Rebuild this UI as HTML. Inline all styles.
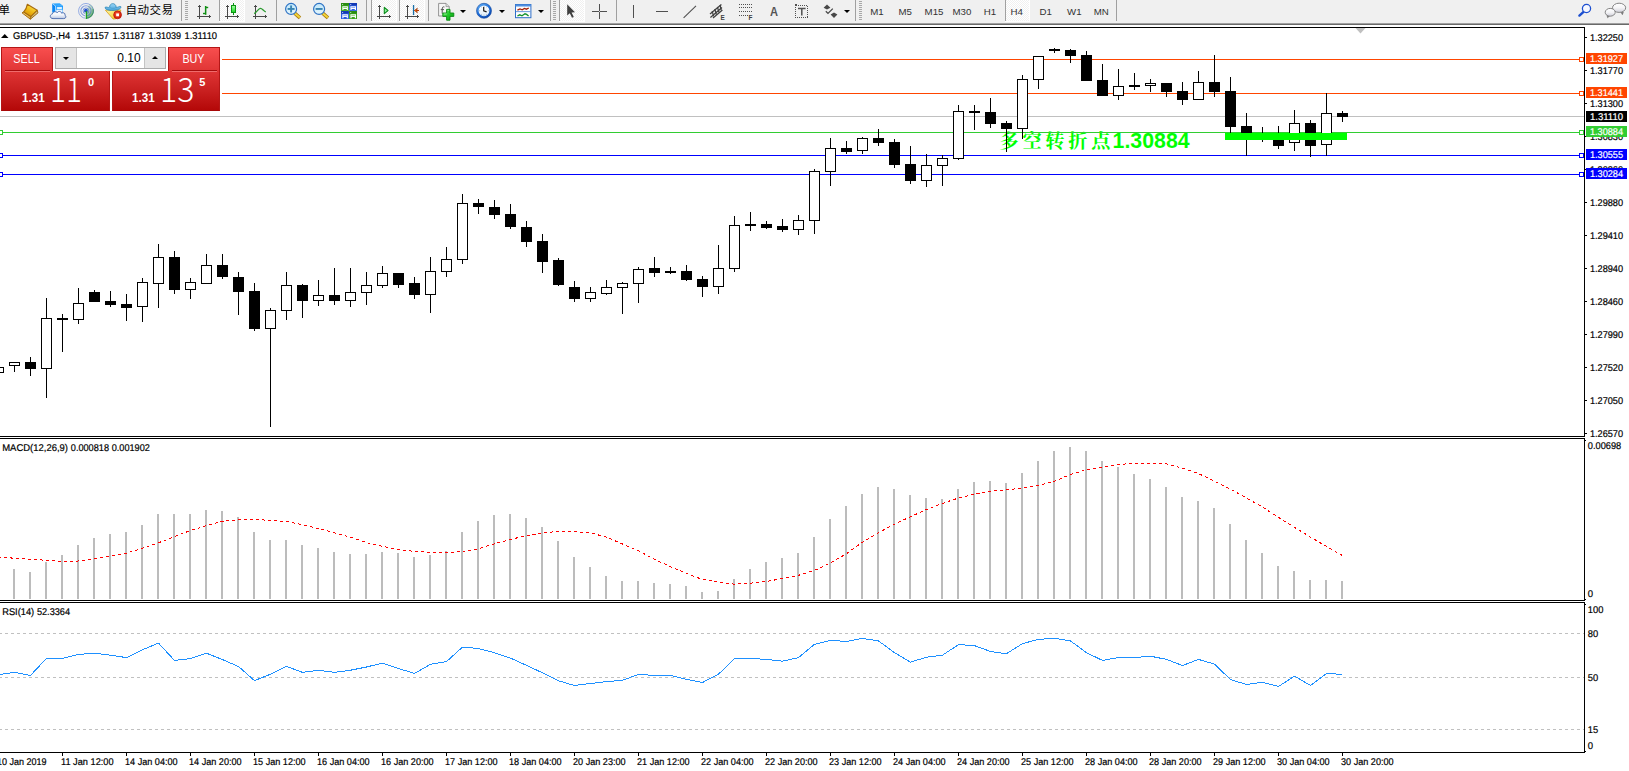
<!DOCTYPE html>
<html lang="zh"><head><meta charset="utf-8"><title>GBPUSD-,H4</title>
<style>
html,body{margin:0;padding:0;background:#fff;}
body{width:1629px;height:771px;overflow:hidden;position:relative;font-family:"Liberation Sans","Noto Sans CJK SC",sans-serif;}
#tb{position:absolute;left:0;top:0;width:1629px;height:23px;background:#f0f0f0;}
#tbl1{position:absolute;left:0;top:23px;width:1629px;height:1px;background:#a0a0a0;}
#tbl2{position:absolute;left:0;top:24px;width:1629px;height:1px;background:#696969;}
#chart{position:absolute;left:0;top:0;}
#tb .sep{position:absolute;top:0;width:1px;height:21px;background:#a0a0a0;}
#tb .grip{position:absolute;top:1px;width:3px;height:19px;background:repeating-linear-gradient(to bottom,#a8a8a8 0,#a8a8a8 1px,transparent 1px,transparent 2px);}
#tb .pressed{position:absolute;top:0;height:22px;background-color:#f0f0f0;background-image:linear-gradient(#fff,#fff),repeating-conic-gradient(#fff 0 25%,#f0f0f0 0 50%);background-size:100% 1px,2px 2px;background-position:0 21px,0 0;background-repeat:no-repeat,repeat;border-left:1px solid #a0a0a0;border-right:1px solid #fff;box-sizing:border-box;}#tb .pressed:before{content:"";position:absolute;left:-1px;top:21px;width:1px;height:1px;background:#fff;}
#tb svg{position:absolute;overflow:visible;}
#tb .tf{position:absolute;top:6.4px;font-size:9.7px;color:#333;line-height:12px;white-space:nowrap;}
#tb .auto{position:absolute;left:125.6px;top:3.1px;font-size:11.5px;letter-spacing:.5px;line-height:14px;color:#000;white-space:nowrap;font-family:"Liberation Sans","Noto Sans CJK SC",sans-serif;}
#tb .dd{position:absolute;top:10px;width:0;height:0;border-left:3px solid transparent;border-right:3px solid transparent;border-top:3px solid #000;}
#oct{position:absolute;left:0;top:47px;width:222px;height:64px;background:#fff;}
#oct .tab{position:absolute;top:0;height:24px;width:52px;box-sizing:border-box;border:1px solid #b41616;border-bottom:0;background:linear-gradient(#f84e4e,#e03535);color:#fff;font-size:12.5px;text-align:center;}
#oct .tab span{position:absolute;left:-1px;right:0;top:4px;line-height:14px;transform:scaleX(.86);}
#oct .tab i{position:absolute;left:3px;right:2px;top:22px;height:1px;background:#a60c0c;}
#oct .sell{left:1px;}
#oct .buy{left:168px;}
#oct .pr{position:absolute;top:24px;height:40px;box-sizing:border-box;border:1px solid #b41616;border-top:0;border-bottom-color:#a80808;background:linear-gradient(#df3434,#c92020 50%,#b40808);color:#fff;}
#oct .pr u{position:absolute;top:0;height:1px;width:45px;background:#ef6c6c;}
#oct .ps{left:1px;width:109px;}
#oct .ps u{left:3px;}
#oct .pb{left:112px;width:108px;}
#oct .pb u{left:59px;}
#oct .pr span{position:absolute;white-space:nowrap;}
#oct .sm{font-weight:bold;font-size:12.5px;top:20px;line-height:14px;transform:scaleX(.93);transform-origin:0 0;}
#oct .big{font-family:"Noto Sans CJK SC","Liberation Sans",sans-serif;font-weight:300;font-size:33px;top:-7px;line-height:48px;letter-spacing:0;transform-origin:0 0;}
#oct .sup{font-weight:bold;font-size:11px;top:5px;line-height:12px;}
#oct .spin{position:absolute;left:55px;top:0;width:111px;height:22px;box-sizing:border-box;border:1px solid #ababab;background:#fff;}
#oct .sb{position:absolute;top:0;width:20px;height:20px;background:#e5e5e5;}
#oct .dn{left:0;border-right:1px solid #c4c4c4;}
#oct .up{right:0;border-left:1px solid #c4c4c4;}
#oct .sb b{position:absolute;left:7px;width:0;height:0;border-left:3px solid transparent;border-right:3px solid transparent;}
#oct .dn b{top:9px;border-top:3px solid #000;}
#oct .up b{top:8px;border-bottom:3px solid #000;}
#oct .val{position:absolute;right:24.3px;top:3px;font-size:12px;line-height:14px;color:#000;}
</style></head>
<body>
<svg id="chart" width="1629" height="771" viewBox="0 0 1629 771" shape-rendering="crispEdges">
<text x="999.6" y="148" font-family="'Liberation Sans','Noto Serif CJK SC',serif" font-weight="bold" font-size="21.3" fill="#00ff00"><tspan font-family="'Noto Serif CJK SC',serif" font-weight="700" font-size="19.2" letter-spacing="3.7">多空转折点</tspan><tspan x="1112.6" font-family="'Liberation Sans',sans-serif">1.30884</tspan></text>
<rect x="0" y="116" width="1584" height="1" fill="#c0c0c0"/>
<rect x="0" y="59" width="1584" height="1" fill="#ff4500"/>
<rect x="0" y="93" width="1584" height="1" fill="#ff4500"/>
<rect x="0" y="132" width="1584" height="1" fill="#32cd32"/>
<rect x="0" y="155" width="1584" height="1" fill="#0000ff"/>
<rect x="0" y="174" width="1584" height="1" fill="#0000ff"/>
<rect x="-2" y="367" width="1" height="6" fill="#000"/>
<rect x="-7" y="367" width="11" height="6" fill="#000"/>
<rect x="-6" y="368" width="9" height="4" fill="#fff"/>
<rect x="14" y="362" width="1" height="10" fill="#000"/>
<rect x="9" y="362" width="11" height="4" fill="#000"/>
<rect x="10" y="363" width="9" height="2" fill="#fff"/>
<rect x="30" y="357" width="1" height="19" fill="#000"/>
<rect x="25" y="362" width="11" height="7" fill="#000"/>
<rect x="46" y="298" width="1" height="100" fill="#000"/>
<rect x="41" y="318" width="11" height="51" fill="#000"/>
<rect x="42" y="319" width="9" height="49" fill="#fff"/>
<rect x="62" y="314" width="1" height="38" fill="#000"/>
<rect x="57" y="318" width="11" height="2" fill="#000"/>
<rect x="78" y="288" width="1" height="36" fill="#000"/>
<rect x="73" y="303" width="11" height="17" fill="#000"/>
<rect x="74" y="304" width="9" height="15" fill="#fff"/>
<rect x="94" y="290" width="1" height="12" fill="#000"/>
<rect x="89" y="292" width="11" height="10" fill="#000"/>
<rect x="110" y="291" width="1" height="16" fill="#000"/>
<rect x="105" y="301" width="11" height="4" fill="#000"/>
<rect x="126" y="294" width="1" height="27" fill="#000"/>
<rect x="121" y="304" width="11" height="4" fill="#000"/>
<rect x="142" y="278" width="1" height="44" fill="#000"/>
<rect x="137" y="282" width="11" height="25" fill="#000"/>
<rect x="138" y="283" width="9" height="23" fill="#fff"/>
<rect x="158" y="244" width="1" height="64" fill="#000"/>
<rect x="153" y="257" width="11" height="27" fill="#000"/>
<rect x="154" y="258" width="9" height="25" fill="#fff"/>
<rect x="174" y="251" width="1" height="43" fill="#000"/>
<rect x="169" y="257" width="11" height="33" fill="#000"/>
<rect x="190" y="278" width="1" height="21" fill="#000"/>
<rect x="185" y="282" width="11" height="8" fill="#000"/>
<rect x="186" y="283" width="9" height="6" fill="#fff"/>
<rect x="206" y="254" width="1" height="30" fill="#000"/>
<rect x="201" y="265" width="11" height="19" fill="#000"/>
<rect x="202" y="266" width="9" height="17" fill="#fff"/>
<rect x="222" y="254" width="1" height="25" fill="#000"/>
<rect x="217" y="265" width="11" height="12" fill="#000"/>
<rect x="238" y="272" width="1" height="43" fill="#000"/>
<rect x="233" y="277" width="11" height="15" fill="#000"/>
<rect x="254" y="283" width="1" height="48" fill="#000"/>
<rect x="249" y="291" width="11" height="38" fill="#000"/>
<rect x="270" y="308" width="1" height="119" fill="#000"/>
<rect x="265" y="310" width="11" height="19" fill="#000"/>
<rect x="266" y="311" width="9" height="17" fill="#fff"/>
<rect x="286" y="272" width="1" height="48" fill="#000"/>
<rect x="281" y="285" width="11" height="26" fill="#000"/>
<rect x="282" y="286" width="9" height="24" fill="#fff"/>
<rect x="302" y="284" width="1" height="34" fill="#000"/>
<rect x="297" y="285" width="11" height="16" fill="#000"/>
<rect x="318" y="280" width="1" height="26" fill="#000"/>
<rect x="313" y="295" width="11" height="6" fill="#000"/>
<rect x="314" y="296" width="9" height="4" fill="#fff"/>
<rect x="334" y="268" width="1" height="37" fill="#000"/>
<rect x="329" y="295" width="11" height="6" fill="#000"/>
<rect x="350" y="268" width="1" height="39" fill="#000"/>
<rect x="345" y="292" width="11" height="9" fill="#000"/>
<rect x="346" y="293" width="9" height="7" fill="#fff"/>
<rect x="366" y="272" width="1" height="33" fill="#000"/>
<rect x="361" y="285" width="11" height="8" fill="#000"/>
<rect x="362" y="286" width="9" height="6" fill="#fff"/>
<rect x="382" y="266" width="1" height="22" fill="#000"/>
<rect x="377" y="273" width="11" height="13" fill="#000"/>
<rect x="378" y="274" width="9" height="11" fill="#fff"/>
<rect x="398" y="273" width="1" height="15" fill="#000"/>
<rect x="393" y="273" width="11" height="12" fill="#000"/>
<rect x="414" y="277" width="1" height="22" fill="#000"/>
<rect x="409" y="283" width="11" height="12" fill="#000"/>
<rect x="430" y="257" width="1" height="56" fill="#000"/>
<rect x="425" y="271" width="11" height="24" fill="#000"/>
<rect x="426" y="272" width="9" height="22" fill="#fff"/>
<rect x="446" y="247" width="1" height="30" fill="#000"/>
<rect x="441" y="259" width="11" height="13" fill="#000"/>
<rect x="442" y="260" width="9" height="11" fill="#fff"/>
<rect x="462" y="194" width="1" height="70" fill="#000"/>
<rect x="457" y="203" width="11" height="57" fill="#000"/>
<rect x="458" y="204" width="9" height="55" fill="#fff"/>
<rect x="478" y="199" width="1" height="15" fill="#000"/>
<rect x="473" y="203" width="11" height="4" fill="#000"/>
<rect x="494" y="200" width="1" height="19" fill="#000"/>
<rect x="489" y="207" width="11" height="8" fill="#000"/>
<rect x="510" y="204" width="1" height="25" fill="#000"/>
<rect x="505" y="214" width="11" height="13" fill="#000"/>
<rect x="526" y="221" width="1" height="26" fill="#000"/>
<rect x="521" y="227" width="11" height="15" fill="#000"/>
<rect x="542" y="234" width="1" height="39" fill="#000"/>
<rect x="537" y="241" width="11" height="21" fill="#000"/>
<rect x="558" y="258" width="1" height="28" fill="#000"/>
<rect x="553" y="260" width="11" height="25" fill="#000"/>
<rect x="574" y="281" width="1" height="21" fill="#000"/>
<rect x="569" y="287" width="11" height="12" fill="#000"/>
<rect x="590" y="287" width="1" height="15" fill="#000"/>
<rect x="585" y="292" width="11" height="7" fill="#000"/>
<rect x="586" y="293" width="9" height="5" fill="#fff"/>
<rect x="606" y="280" width="1" height="15" fill="#000"/>
<rect x="601" y="287" width="11" height="7" fill="#000"/>
<rect x="602" y="288" width="9" height="5" fill="#fff"/>
<rect x="622" y="282" width="1" height="32" fill="#000"/>
<rect x="617" y="283" width="11" height="5" fill="#000"/>
<rect x="618" y="284" width="9" height="3" fill="#fff"/>
<rect x="638" y="267" width="1" height="36" fill="#000"/>
<rect x="633" y="269" width="11" height="15" fill="#000"/>
<rect x="634" y="270" width="9" height="13" fill="#fff"/>
<rect x="654" y="257" width="1" height="20" fill="#000"/>
<rect x="649" y="268" width="11" height="5" fill="#000"/>
<rect x="670" y="267" width="1" height="7" fill="#000"/>
<rect x="665" y="271" width="11" height="2" fill="#000"/>
<rect x="686" y="265" width="1" height="16" fill="#000"/>
<rect x="681" y="271" width="11" height="9" fill="#000"/>
<rect x="702" y="276" width="1" height="21" fill="#000"/>
<rect x="697" y="279" width="11" height="8" fill="#000"/>
<rect x="718" y="245" width="1" height="49" fill="#000"/>
<rect x="713" y="268" width="11" height="19" fill="#000"/>
<rect x="714" y="269" width="9" height="17" fill="#fff"/>
<rect x="734" y="216" width="1" height="56" fill="#000"/>
<rect x="729" y="225" width="11" height="44" fill="#000"/>
<rect x="730" y="226" width="9" height="42" fill="#fff"/>
<rect x="750" y="212" width="1" height="19" fill="#000"/>
<rect x="745" y="224" width="11" height="2" fill="#000"/>
<rect x="766" y="221" width="1" height="8" fill="#000"/>
<rect x="761" y="224" width="11" height="4" fill="#000"/>
<rect x="782" y="219" width="1" height="13" fill="#000"/>
<rect x="777" y="226" width="11" height="4" fill="#000"/>
<rect x="798" y="215" width="1" height="20" fill="#000"/>
<rect x="793" y="220" width="11" height="10" fill="#000"/>
<rect x="794" y="221" width="9" height="8" fill="#fff"/>
<rect x="814" y="169" width="1" height="65" fill="#000"/>
<rect x="809" y="171" width="11" height="50" fill="#000"/>
<rect x="810" y="172" width="9" height="48" fill="#fff"/>
<rect x="830" y="138" width="1" height="48" fill="#000"/>
<rect x="825" y="148" width="11" height="24" fill="#000"/>
<rect x="826" y="149" width="9" height="22" fill="#fff"/>
<rect x="846" y="141" width="1" height="13" fill="#000"/>
<rect x="841" y="148" width="11" height="4" fill="#000"/>
<rect x="862" y="137" width="1" height="17" fill="#000"/>
<rect x="857" y="138" width="11" height="13" fill="#000"/>
<rect x="858" y="139" width="9" height="11" fill="#fff"/>
<rect x="878" y="129" width="1" height="17" fill="#000"/>
<rect x="873" y="138" width="11" height="5" fill="#000"/>
<rect x="894" y="139" width="1" height="29" fill="#000"/>
<rect x="889" y="142" width="11" height="23" fill="#000"/>
<rect x="910" y="146" width="1" height="38" fill="#000"/>
<rect x="905" y="164" width="11" height="17" fill="#000"/>
<rect x="926" y="154" width="1" height="33" fill="#000"/>
<rect x="921" y="165" width="11" height="16" fill="#000"/>
<rect x="922" y="166" width="9" height="14" fill="#fff"/>
<rect x="942" y="155" width="1" height="31" fill="#000"/>
<rect x="937" y="158" width="11" height="8" fill="#000"/>
<rect x="938" y="159" width="9" height="6" fill="#fff"/>
<rect x="958" y="105" width="1" height="55" fill="#000"/>
<rect x="953" y="111" width="11" height="48" fill="#000"/>
<rect x="954" y="112" width="9" height="46" fill="#fff"/>
<rect x="974" y="105" width="1" height="25" fill="#000"/>
<rect x="969" y="111" width="11" height="2" fill="#000"/>
<rect x="990" y="98" width="1" height="30" fill="#000"/>
<rect x="985" y="112" width="11" height="12" fill="#000"/>
<rect x="1006" y="121" width="1" height="31" fill="#000"/>
<rect x="1001" y="123" width="11" height="6" fill="#000"/>
<rect x="1022" y="75" width="1" height="64" fill="#000"/>
<rect x="1017" y="79" width="11" height="50" fill="#000"/>
<rect x="1018" y="80" width="9" height="48" fill="#fff"/>
<rect x="1038" y="56" width="1" height="33" fill="#000"/>
<rect x="1033" y="56" width="11" height="24" fill="#000"/>
<rect x="1034" y="57" width="9" height="22" fill="#fff"/>
<rect x="1054" y="48" width="1" height="5" fill="#000"/>
<rect x="1049" y="49" width="11" height="2" fill="#000"/>
<rect x="1070" y="49" width="1" height="14" fill="#000"/>
<rect x="1065" y="50" width="11" height="6" fill="#000"/>
<rect x="1086" y="51" width="1" height="30" fill="#000"/>
<rect x="1081" y="55" width="11" height="26" fill="#000"/>
<rect x="1102" y="64" width="1" height="32" fill="#000"/>
<rect x="1097" y="80" width="11" height="16" fill="#000"/>
<rect x="1118" y="69" width="1" height="31" fill="#000"/>
<rect x="1113" y="86" width="11" height="10" fill="#000"/>
<rect x="1114" y="87" width="9" height="8" fill="#fff"/>
<rect x="1134" y="73" width="1" height="17" fill="#000"/>
<rect x="1129" y="85" width="11" height="2" fill="#000"/>
<rect x="1150" y="79" width="1" height="13" fill="#000"/>
<rect x="1145" y="83" width="11" height="3" fill="#000"/>
<rect x="1146" y="84" width="9" height="1" fill="#fff"/>
<rect x="1166" y="83" width="1" height="14" fill="#000"/>
<rect x="1161" y="83" width="11" height="9" fill="#000"/>
<rect x="1182" y="82" width="1" height="23" fill="#000"/>
<rect x="1177" y="91" width="11" height="9" fill="#000"/>
<rect x="1198" y="71" width="1" height="29" fill="#000"/>
<rect x="1193" y="82" width="11" height="18" fill="#000"/>
<rect x="1194" y="83" width="9" height="16" fill="#fff"/>
<rect x="1214" y="55" width="1" height="42" fill="#000"/>
<rect x="1209" y="82" width="11" height="10" fill="#000"/>
<rect x="1230" y="77" width="1" height="57" fill="#000"/>
<rect x="1225" y="91" width="11" height="36" fill="#000"/>
<rect x="1246" y="113" width="1" height="43" fill="#000"/>
<rect x="1241" y="126" width="11" height="9" fill="#000"/>
<rect x="1262" y="127" width="1" height="15" fill="#000"/>
<rect x="1257" y="133" width="11" height="2" fill="#000"/>
<rect x="1278" y="126" width="1" height="23" fill="#000"/>
<rect x="1273" y="135" width="11" height="11" fill="#000"/>
<rect x="1294" y="110" width="1" height="41" fill="#000"/>
<rect x="1289" y="123" width="11" height="20" fill="#000"/>
<rect x="1290" y="124" width="9" height="18" fill="#fff"/>
<rect x="1310" y="120" width="1" height="37" fill="#000"/>
<rect x="1305" y="123" width="11" height="23" fill="#000"/>
<rect x="1326" y="93" width="1" height="63" fill="#000"/>
<rect x="1321" y="113" width="11" height="32" fill="#000"/>
<rect x="1322" y="114" width="9" height="30" fill="#fff"/>
<rect x="1342" y="111" width="1" height="11" fill="#000"/>
<rect x="1337" y="113" width="11" height="4" fill="#000"/>
<rect x="1225" y="133" width="122" height="7" fill="#00ff00"/>
<rect x="1579.5" y="57.5" width="4" height="4" fill="#fff" stroke="#ff4500" stroke-width="1"/>
<rect x="1579.5" y="91.5" width="4" height="4" fill="#fff" stroke="#ff4500" stroke-width="1"/>
<rect x="1579.5" y="130.5" width="4" height="4" fill="#fff" stroke="#32cd32" stroke-width="1"/>
<rect x="1579.5" y="153.5" width="4" height="4" fill="#fff" stroke="#0000ff" stroke-width="1"/>
<rect x="1579.5" y="172.5" width="4" height="4" fill="#fff" stroke="#0000ff" stroke-width="1"/>
<rect x="-1.5" y="130.5" width="4" height="4" fill="#fff" stroke="#32cd32" stroke-width="1"/>
<rect x="-1.5" y="153.5" width="4" height="4" fill="#fff" stroke="#0000ff" stroke-width="1"/>
<rect x="-1.5" y="172.5" width="4" height="4" fill="#fff" stroke="#0000ff" stroke-width="1"/>
<polygon points="1355.5,28 1365.5,28 1360.5,33.5" fill="#c0c0c0" shape-rendering="geometricPrecision"/>
<rect x="13" y="569" width="2" height="30" fill="#bcbcbc"/>
<rect x="29" y="572" width="2" height="27" fill="#bcbcbc"/>
<rect x="45" y="562" width="2" height="37" fill="#bcbcbc"/>
<rect x="61" y="555" width="2" height="44" fill="#bcbcbc"/>
<rect x="77" y="545" width="2" height="54" fill="#bcbcbc"/>
<rect x="93" y="538" width="2" height="61" fill="#bcbcbc"/>
<rect x="109" y="534" width="2" height="65" fill="#bcbcbc"/>
<rect x="125" y="532" width="2" height="67" fill="#bcbcbc"/>
<rect x="141" y="525" width="2" height="74" fill="#bcbcbc"/>
<rect x="157" y="514" width="2" height="85" fill="#bcbcbc"/>
<rect x="173" y="514" width="2" height="85" fill="#bcbcbc"/>
<rect x="189" y="514" width="2" height="85" fill="#bcbcbc"/>
<rect x="205" y="510" width="2" height="89" fill="#bcbcbc"/>
<rect x="221" y="511" width="2" height="88" fill="#bcbcbc"/>
<rect x="237" y="517" width="2" height="82" fill="#bcbcbc"/>
<rect x="253" y="532" width="2" height="67" fill="#bcbcbc"/>
<rect x="269" y="540" width="2" height="59" fill="#bcbcbc"/>
<rect x="285" y="540" width="2" height="59" fill="#bcbcbc"/>
<rect x="301" y="545" width="2" height="54" fill="#bcbcbc"/>
<rect x="317" y="548" width="2" height="51" fill="#bcbcbc"/>
<rect x="333" y="552" width="2" height="47" fill="#bcbcbc"/>
<rect x="349" y="554" width="2" height="45" fill="#bcbcbc"/>
<rect x="365" y="554" width="2" height="45" fill="#bcbcbc"/>
<rect x="381" y="552" width="2" height="47" fill="#bcbcbc"/>
<rect x="397" y="553" width="2" height="46" fill="#bcbcbc"/>
<rect x="413" y="557" width="2" height="42" fill="#bcbcbc"/>
<rect x="429" y="555" width="2" height="44" fill="#bcbcbc"/>
<rect x="445" y="551" width="2" height="48" fill="#bcbcbc"/>
<rect x="461" y="532" width="2" height="67" fill="#bcbcbc"/>
<rect x="477" y="521" width="2" height="78" fill="#bcbcbc"/>
<rect x="493" y="515" width="2" height="84" fill="#bcbcbc"/>
<rect x="509" y="514" width="2" height="85" fill="#bcbcbc"/>
<rect x="525" y="518" width="2" height="81" fill="#bcbcbc"/>
<rect x="541" y="527" width="2" height="72" fill="#bcbcbc"/>
<rect x="557" y="541" width="2" height="58" fill="#bcbcbc"/>
<rect x="573" y="557" width="2" height="42" fill="#bcbcbc"/>
<rect x="589" y="567" width="2" height="32" fill="#bcbcbc"/>
<rect x="605" y="576" width="2" height="23" fill="#bcbcbc"/>
<rect x="621" y="581" width="2" height="18" fill="#bcbcbc"/>
<rect x="637" y="581" width="2" height="18" fill="#bcbcbc"/>
<rect x="653" y="583" width="2" height="16" fill="#bcbcbc"/>
<rect x="669" y="584" width="2" height="15" fill="#bcbcbc"/>
<rect x="685" y="586" width="2" height="13" fill="#bcbcbc"/>
<rect x="701" y="592" width="2" height="7" fill="#bcbcbc"/>
<rect x="717" y="591" width="2" height="8" fill="#bcbcbc"/>
<rect x="733" y="579" width="2" height="20" fill="#bcbcbc"/>
<rect x="749" y="569" width="2" height="30" fill="#bcbcbc"/>
<rect x="765" y="562" width="2" height="37" fill="#bcbcbc"/>
<rect x="781" y="558" width="2" height="41" fill="#bcbcbc"/>
<rect x="797" y="553" width="2" height="46" fill="#bcbcbc"/>
<rect x="813" y="537" width="2" height="62" fill="#bcbcbc"/>
<rect x="829" y="519" width="2" height="80" fill="#bcbcbc"/>
<rect x="845" y="506" width="2" height="93" fill="#bcbcbc"/>
<rect x="861" y="494" width="2" height="105" fill="#bcbcbc"/>
<rect x="877" y="487" width="2" height="112" fill="#bcbcbc"/>
<rect x="893" y="489" width="2" height="110" fill="#bcbcbc"/>
<rect x="909" y="495" width="2" height="104" fill="#bcbcbc"/>
<rect x="925" y="498" width="2" height="101" fill="#bcbcbc"/>
<rect x="941" y="499" width="2" height="100" fill="#bcbcbc"/>
<rect x="957" y="489" width="2" height="110" fill="#bcbcbc"/>
<rect x="973" y="482" width="2" height="117" fill="#bcbcbc"/>
<rect x="989" y="481" width="2" height="118" fill="#bcbcbc"/>
<rect x="1005" y="483" width="2" height="116" fill="#bcbcbc"/>
<rect x="1021" y="473" width="2" height="126" fill="#bcbcbc"/>
<rect x="1037" y="461" width="2" height="138" fill="#bcbcbc"/>
<rect x="1053" y="451" width="2" height="148" fill="#bcbcbc"/>
<rect x="1069" y="447" width="2" height="152" fill="#bcbcbc"/>
<rect x="1085" y="451" width="2" height="148" fill="#bcbcbc"/>
<rect x="1101" y="461" width="2" height="138" fill="#bcbcbc"/>
<rect x="1117" y="467" width="2" height="132" fill="#bcbcbc"/>
<rect x="1133" y="474" width="2" height="125" fill="#bcbcbc"/>
<rect x="1149" y="479" width="2" height="120" fill="#bcbcbc"/>
<rect x="1165" y="487" width="2" height="112" fill="#bcbcbc"/>
<rect x="1181" y="497" width="2" height="102" fill="#bcbcbc"/>
<rect x="1197" y="501" width="2" height="98" fill="#bcbcbc"/>
<rect x="1213" y="508" width="2" height="91" fill="#bcbcbc"/>
<rect x="1229" y="524" width="2" height="75" fill="#bcbcbc"/>
<rect x="1245" y="540" width="2" height="59" fill="#bcbcbc"/>
<rect x="1261" y="553" width="2" height="46" fill="#bcbcbc"/>
<rect x="1277" y="566" width="2" height="33" fill="#bcbcbc"/>
<rect x="1293" y="571" width="2" height="28" fill="#bcbcbc"/>
<rect x="1309" y="580" width="2" height="19" fill="#bcbcbc"/>
<rect x="1325" y="580" width="2" height="19" fill="#bcbcbc"/>
<rect x="1341" y="581" width="2" height="18" fill="#bcbcbc"/>
<polyline points="-1.5,557.6 14.5,558.1 30.5,559.3 46.5,560.3 62.5,561.3 78.5,561.0 94.5,558.8 110.5,556.4 126.5,553.2 142.5,548.2 158.5,542.8 174.5,536.6 190.5,530.5 206.5,525.6 222.5,521.4 238.5,519.6 254.5,519.4 270.5,520.4 286.5,521.4 302.5,524.8 318.5,528.5 334.5,532.9 350.5,537.1 366.5,542.6 382.5,546.3 398.5,549.5 414.5,551.4 430.5,552.4 446.5,552.9 462.5,551.4 478.5,548.7 494.5,543.8 510.5,539.4 526.5,535.7 542.5,532.7 558.5,531.5 574.5,531.5 590.5,532.9 606.5,537.1 622.5,544.0 638.5,550.7 654.5,559.3 670.5,566.7 686.5,573.4 702.5,579.5 718.5,582.0 734.5,584.2 750.5,583.2 766.5,581.5 782.5,578.5 798.5,575.3 814.5,570.4 830.5,563.0 846.5,553.7 862.5,542.1 878.5,532.7 894.5,524.1 910.5,516.7 926.5,509.5 942.5,503.4 958.5,498.0 974.5,494.3 990.5,491.3 1006.5,489.8 1022.5,488.1 1038.5,485.4 1054.5,481.2 1070.5,474.5 1086.5,469.6 1102.5,466.9 1118.5,464.4 1134.5,463.4 1150.5,463.4 1166.5,463.9 1182.5,468.1 1198.5,473.6 1214.5,481.2 1230.5,489.1 1246.5,498.0 1262.5,507.1 1278.5,517.4 1294.5,527.3 1310.5,537.1 1326.5,546.5 1342.5,555.5" fill="none" stroke="#ff0000" stroke-width="1" stroke-dasharray="3,3" shape-rendering="crispEdges"/>
<line x1="-1" y1="633.5" x2="1584" y2="633.5" stroke="#c0c0c0" stroke-width="1" stroke-dasharray="3,3"/>
<line x1="-1" y1="677.5" x2="1584" y2="677.5" stroke="#c0c0c0" stroke-width="1" stroke-dasharray="3,3"/>
<line x1="-1" y1="729.5" x2="1584" y2="729.5" stroke="#c0c0c0" stroke-width="1" stroke-dasharray="3,3"/>
<polyline points="-1.5,674.7 14.5,672.4 30.5,675.4 46.5,658.4 62.5,658.4 78.5,654.4 94.5,653.2 110.5,655.2 126.5,657.6 142.5,649.8 158.5,643.1 174.5,660.4 190.5,658.6 206.5,653.2 222.5,659.6 238.5,666.5 254.5,680.6 270.5,674.2 286.5,666.3 302.5,672.4 318.5,670.2 334.5,672.4 350.5,670.2 366.5,667.0 382.5,663.1 398.5,668.5 414.5,673.4 430.5,664.3 446.5,661.6 462.5,647.1 478.5,648.5 494.5,652.7 510.5,658.1 526.5,665.3 542.5,672.9 558.5,680.8 574.5,685.5 590.5,683.5 606.5,681.6 622.5,680.3 638.5,674.4 654.5,675.4 670.5,675.4 686.5,679.3 702.5,682.5 718.5,674.2 734.5,658.4 750.5,658.4 766.5,659.4 782.5,661.2 798.5,657.6 814.5,644.3 830.5,640.4 846.5,641.4 862.5,638.4 878.5,640.9 894.5,652.7 910.5,662.1 926.5,657.2 942.5,655.2 958.5,644.6 974.5,645.6 990.5,651.5 1006.5,653.7 1022.5,643.6 1038.5,639.4 1054.5,638.2 1070.5,640.9 1086.5,652.7 1102.5,660.4 1118.5,657.6 1134.5,657.6 1150.5,656.2 1166.5,659.4 1182.5,665.5 1198.5,659.4 1214.5,664.1 1230.5,679.6 1246.5,684.5 1262.5,682.3 1278.5,686.5 1294.5,676.1 1310.5,685.5 1326.5,673.4 1342.5,674.4" fill="none" stroke="#1e90ff" stroke-width="1" shape-rendering="crispEdges"/>
<rect x="0" y="27" width="1585" height="1" fill="#000"/>
<rect x="1584" y="27" width="1" height="726" fill="#000"/>
<rect x="0" y="436" width="1585" height="1" fill="#000"/>
<rect x="0" y="438" width="1585" height="1" fill="#000"/>
<rect x="1584" y="437" width="1" height="1" fill="#fff"/>
<rect x="0" y="600" width="1585" height="1" fill="#000"/>
<rect x="0" y="602" width="1585" height="1" fill="#000"/>
<rect x="1584" y="601" width="1" height="1" fill="#fff"/>
<rect x="0" y="752" width="1585" height="1" fill="#000"/>
<rect x="1585" y="37" width="2" height="1" fill="#000"/>
<text x="1589.9" y="41" font-family="'Liberation Sans',sans-serif" font-size="9.8" fill="#000" stroke="#000" stroke-width=".2" text-rendering="geometricPrecision" textLength="33.2" lengthAdjust="spacingAndGlyphs">1.32250</text>
<rect x="1585" y="70" width="2" height="1" fill="#000"/>
<text x="1589.9" y="74" font-family="'Liberation Sans',sans-serif" font-size="9.8" fill="#000" stroke="#000" stroke-width=".2" text-rendering="geometricPrecision" textLength="33.2" lengthAdjust="spacingAndGlyphs">1.31770</text>
<rect x="1585" y="103" width="2" height="1" fill="#000"/>
<text x="1589.9" y="107" font-family="'Liberation Sans',sans-serif" font-size="9.8" fill="#000" stroke="#000" stroke-width=".2" text-rendering="geometricPrecision" textLength="33.2" lengthAdjust="spacingAndGlyphs">1.31300</text>
<rect x="1585" y="136" width="2" height="1" fill="#000"/>
<text x="1589.9" y="140" font-family="'Liberation Sans',sans-serif" font-size="9.8" fill="#000" stroke="#000" stroke-width=".2" text-rendering="geometricPrecision" textLength="33.2" lengthAdjust="spacingAndGlyphs">1.30830</text>
<rect x="1585" y="169" width="2" height="1" fill="#000"/>
<text x="1589.9" y="173" font-family="'Liberation Sans',sans-serif" font-size="9.8" fill="#000" stroke="#000" stroke-width=".2" text-rendering="geometricPrecision" textLength="33.2" lengthAdjust="spacingAndGlyphs">1.30360</text>
<rect x="1585" y="202" width="2" height="1" fill="#000"/>
<text x="1589.9" y="206" font-family="'Liberation Sans',sans-serif" font-size="9.8" fill="#000" stroke="#000" stroke-width=".2" text-rendering="geometricPrecision" textLength="33.2" lengthAdjust="spacingAndGlyphs">1.29880</text>
<rect x="1585" y="235" width="2" height="1" fill="#000"/>
<text x="1589.9" y="239" font-family="'Liberation Sans',sans-serif" font-size="9.8" fill="#000" stroke="#000" stroke-width=".2" text-rendering="geometricPrecision" textLength="33.2" lengthAdjust="spacingAndGlyphs">1.29410</text>
<rect x="1585" y="268" width="2" height="1" fill="#000"/>
<text x="1589.9" y="272" font-family="'Liberation Sans',sans-serif" font-size="9.8" fill="#000" stroke="#000" stroke-width=".2" text-rendering="geometricPrecision" textLength="33.2" lengthAdjust="spacingAndGlyphs">1.28940</text>
<rect x="1585" y="301" width="2" height="1" fill="#000"/>
<text x="1589.9" y="305" font-family="'Liberation Sans',sans-serif" font-size="9.8" fill="#000" stroke="#000" stroke-width=".2" text-rendering="geometricPrecision" textLength="33.2" lengthAdjust="spacingAndGlyphs">1.28460</text>
<rect x="1585" y="334" width="2" height="1" fill="#000"/>
<text x="1589.9" y="338" font-family="'Liberation Sans',sans-serif" font-size="9.8" fill="#000" stroke="#000" stroke-width=".2" text-rendering="geometricPrecision" textLength="33.2" lengthAdjust="spacingAndGlyphs">1.27990</text>
<rect x="1585" y="367" width="2" height="1" fill="#000"/>
<text x="1589.9" y="371" font-family="'Liberation Sans',sans-serif" font-size="9.8" fill="#000" stroke="#000" stroke-width=".2" text-rendering="geometricPrecision" textLength="33.2" lengthAdjust="spacingAndGlyphs">1.27520</text>
<rect x="1585" y="400" width="2" height="1" fill="#000"/>
<text x="1589.9" y="404" font-family="'Liberation Sans',sans-serif" font-size="9.8" fill="#000" stroke="#000" stroke-width=".2" text-rendering="geometricPrecision" textLength="33.2" lengthAdjust="spacingAndGlyphs">1.27050</text>
<rect x="1585" y="433" width="2" height="1" fill="#000"/>
<text x="1589.9" y="437" font-family="'Liberation Sans',sans-serif" font-size="9.8" fill="#000" stroke="#000" stroke-width=".2" text-rendering="geometricPrecision" textLength="33.2" lengthAdjust="spacingAndGlyphs">1.26570</text>
<rect x="1585" y="440" width="1" height="1" fill="#000"/>
<text x="1587.8" y="449" font-family="'Liberation Sans',sans-serif" font-size="9.8" fill="#000" stroke="#000" stroke-width=".2" text-rendering="geometricPrecision" textLength="33.4" lengthAdjust="spacingAndGlyphs">0.00698</text>
<rect x="1585" y="599" width="1" height="1" fill="#000"/>
<text x="1587.8" y="597" font-family="'Liberation Sans',sans-serif" font-size="9.8" fill="#000" stroke="#000" stroke-width=".2" text-rendering="geometricPrecision" textLength="5.3" lengthAdjust="spacingAndGlyphs">0</text>
<rect x="1585" y="604" width="1" height="1" fill="#000"/>
<text x="1587.8" y="613" font-family="'Liberation Sans',sans-serif" font-size="9.8" fill="#000" stroke="#000" stroke-width=".2" text-rendering="geometricPrecision" textLength="15.6" lengthAdjust="spacingAndGlyphs">100</text>
<text x="1587.8" y="637" font-family="'Liberation Sans',sans-serif" font-size="9.8" fill="#000" stroke="#000" stroke-width=".2" text-rendering="geometricPrecision" textLength="10.4" lengthAdjust="spacingAndGlyphs">80</text>
<text x="1587.8" y="681" font-family="'Liberation Sans',sans-serif" font-size="9.8" fill="#000" stroke="#000" stroke-width=".2" text-rendering="geometricPrecision" textLength="10.4" lengthAdjust="spacingAndGlyphs">50</text>
<text x="1587.8" y="733" font-family="'Liberation Sans',sans-serif" font-size="9.8" fill="#000" stroke="#000" stroke-width=".2" text-rendering="geometricPrecision" textLength="10.4" lengthAdjust="spacingAndGlyphs">15</text>
<rect x="1585" y="751" width="1" height="1" fill="#000"/>
<text x="1587.8" y="749" font-family="'Liberation Sans',sans-serif" font-size="9.8" fill="#000" stroke="#000" stroke-width=".2" text-rendering="geometricPrecision" textLength="5.3" lengthAdjust="spacingAndGlyphs">0</text>
<rect x="1586" y="53" width="41" height="11" fill="#ff4500"/>
<text x="1589.9" y="62" font-family="'Liberation Sans',sans-serif" font-size="9.8" fill="#fff" stroke="#fff" stroke-width=".2" text-rendering="geometricPrecision" textLength="33.2" lengthAdjust="spacingAndGlyphs">1.31927</text>
<rect x="1586" y="87" width="41" height="11" fill="#ff4500"/>
<text x="1589.9" y="96" font-family="'Liberation Sans',sans-serif" font-size="9.8" fill="#fff" stroke="#fff" stroke-width=".2" text-rendering="geometricPrecision" textLength="33.2" lengthAdjust="spacingAndGlyphs">1.31441</text>
<rect x="1586" y="111" width="41" height="11" fill="#000"/>
<text x="1589.9" y="120" font-family="'Liberation Sans',sans-serif" font-size="9.8" fill="#fff" stroke="#fff" stroke-width=".2" text-rendering="geometricPrecision" textLength="33.2" lengthAdjust="spacingAndGlyphs">1.31110</text>
<rect x="1586" y="126" width="41" height="11" fill="#32cd32"/>
<text x="1589.9" y="135" font-family="'Liberation Sans',sans-serif" font-size="9.8" fill="#fff" stroke="#fff" stroke-width=".2" text-rendering="geometricPrecision" textLength="33.2" lengthAdjust="spacingAndGlyphs">1.30884</text>
<rect x="1586" y="149" width="41" height="11" fill="#0000ff"/>
<text x="1589.9" y="158" font-family="'Liberation Sans',sans-serif" font-size="9.8" fill="#fff" stroke="#fff" stroke-width=".2" text-rendering="geometricPrecision" textLength="33.2" lengthAdjust="spacingAndGlyphs">1.30555</text>
<rect x="1586" y="168" width="41" height="11" fill="#0000ff"/>
<text x="1589.9" y="177" font-family="'Liberation Sans',sans-serif" font-size="9.8" fill="#fff" stroke="#fff" stroke-width=".2" text-rendering="geometricPrecision" textLength="33.2" lengthAdjust="spacingAndGlyphs">1.30284</text>
<rect x="-2" y="753" width="1" height="3" fill="#000"/>
<text x="-3.0" y="765" font-family="'Liberation Sans',sans-serif" font-size="9.8" fill="#000" stroke="#000" stroke-width=".2" text-rendering="geometricPrecision" textLength="49.6" lengthAdjust="spacingAndGlyphs">10 Jan 2019</text>
<rect x="62" y="753" width="1" height="3" fill="#000"/>
<text x="61.0" y="765" font-family="'Liberation Sans',sans-serif" font-size="9.8" fill="#000" stroke="#000" stroke-width=".2" text-rendering="geometricPrecision" textLength="52.6" lengthAdjust="spacingAndGlyphs">11 Jan 12:00</text>
<rect x="126" y="753" width="1" height="3" fill="#000"/>
<text x="125.0" y="765" font-family="'Liberation Sans',sans-serif" font-size="9.8" fill="#000" stroke="#000" stroke-width=".2" text-rendering="geometricPrecision" textLength="52.6" lengthAdjust="spacingAndGlyphs">14 Jan 04:00</text>
<rect x="190" y="753" width="1" height="3" fill="#000"/>
<text x="189.0" y="765" font-family="'Liberation Sans',sans-serif" font-size="9.8" fill="#000" stroke="#000" stroke-width=".2" text-rendering="geometricPrecision" textLength="52.6" lengthAdjust="spacingAndGlyphs">14 Jan 20:00</text>
<rect x="254" y="753" width="1" height="3" fill="#000"/>
<text x="253.0" y="765" font-family="'Liberation Sans',sans-serif" font-size="9.8" fill="#000" stroke="#000" stroke-width=".2" text-rendering="geometricPrecision" textLength="52.6" lengthAdjust="spacingAndGlyphs">15 Jan 12:00</text>
<rect x="318" y="753" width="1" height="3" fill="#000"/>
<text x="317.0" y="765" font-family="'Liberation Sans',sans-serif" font-size="9.8" fill="#000" stroke="#000" stroke-width=".2" text-rendering="geometricPrecision" textLength="52.6" lengthAdjust="spacingAndGlyphs">16 Jan 04:00</text>
<rect x="382" y="753" width="1" height="3" fill="#000"/>
<text x="381.0" y="765" font-family="'Liberation Sans',sans-serif" font-size="9.8" fill="#000" stroke="#000" stroke-width=".2" text-rendering="geometricPrecision" textLength="52.6" lengthAdjust="spacingAndGlyphs">16 Jan 20:00</text>
<rect x="446" y="753" width="1" height="3" fill="#000"/>
<text x="445.0" y="765" font-family="'Liberation Sans',sans-serif" font-size="9.8" fill="#000" stroke="#000" stroke-width=".2" text-rendering="geometricPrecision" textLength="52.6" lengthAdjust="spacingAndGlyphs">17 Jan 12:00</text>
<rect x="510" y="753" width="1" height="3" fill="#000"/>
<text x="509.0" y="765" font-family="'Liberation Sans',sans-serif" font-size="9.8" fill="#000" stroke="#000" stroke-width=".2" text-rendering="geometricPrecision" textLength="52.6" lengthAdjust="spacingAndGlyphs">18 Jan 04:00</text>
<rect x="574" y="753" width="1" height="3" fill="#000"/>
<text x="573.0" y="765" font-family="'Liberation Sans',sans-serif" font-size="9.8" fill="#000" stroke="#000" stroke-width=".2" text-rendering="geometricPrecision" textLength="52.6" lengthAdjust="spacingAndGlyphs">20 Jan 23:00</text>
<rect x="638" y="753" width="1" height="3" fill="#000"/>
<text x="637.0" y="765" font-family="'Liberation Sans',sans-serif" font-size="9.8" fill="#000" stroke="#000" stroke-width=".2" text-rendering="geometricPrecision" textLength="52.6" lengthAdjust="spacingAndGlyphs">21 Jan 12:00</text>
<rect x="702" y="753" width="1" height="3" fill="#000"/>
<text x="701.0" y="765" font-family="'Liberation Sans',sans-serif" font-size="9.8" fill="#000" stroke="#000" stroke-width=".2" text-rendering="geometricPrecision" textLength="52.6" lengthAdjust="spacingAndGlyphs">22 Jan 04:00</text>
<rect x="766" y="753" width="1" height="3" fill="#000"/>
<text x="765.0" y="765" font-family="'Liberation Sans',sans-serif" font-size="9.8" fill="#000" stroke="#000" stroke-width=".2" text-rendering="geometricPrecision" textLength="52.6" lengthAdjust="spacingAndGlyphs">22 Jan 20:00</text>
<rect x="830" y="753" width="1" height="3" fill="#000"/>
<text x="829.0" y="765" font-family="'Liberation Sans',sans-serif" font-size="9.8" fill="#000" stroke="#000" stroke-width=".2" text-rendering="geometricPrecision" textLength="52.6" lengthAdjust="spacingAndGlyphs">23 Jan 12:00</text>
<rect x="894" y="753" width="1" height="3" fill="#000"/>
<text x="893.0" y="765" font-family="'Liberation Sans',sans-serif" font-size="9.8" fill="#000" stroke="#000" stroke-width=".2" text-rendering="geometricPrecision" textLength="52.6" lengthAdjust="spacingAndGlyphs">24 Jan 04:00</text>
<rect x="958" y="753" width="1" height="3" fill="#000"/>
<text x="957.0" y="765" font-family="'Liberation Sans',sans-serif" font-size="9.8" fill="#000" stroke="#000" stroke-width=".2" text-rendering="geometricPrecision" textLength="52.6" lengthAdjust="spacingAndGlyphs">24 Jan 20:00</text>
<rect x="1022" y="753" width="1" height="3" fill="#000"/>
<text x="1021.0" y="765" font-family="'Liberation Sans',sans-serif" font-size="9.8" fill="#000" stroke="#000" stroke-width=".2" text-rendering="geometricPrecision" textLength="52.6" lengthAdjust="spacingAndGlyphs">25 Jan 12:00</text>
<rect x="1086" y="753" width="1" height="3" fill="#000"/>
<text x="1085.0" y="765" font-family="'Liberation Sans',sans-serif" font-size="9.8" fill="#000" stroke="#000" stroke-width=".2" text-rendering="geometricPrecision" textLength="52.6" lengthAdjust="spacingAndGlyphs">28 Jan 04:00</text>
<rect x="1150" y="753" width="1" height="3" fill="#000"/>
<text x="1149.0" y="765" font-family="'Liberation Sans',sans-serif" font-size="9.8" fill="#000" stroke="#000" stroke-width=".2" text-rendering="geometricPrecision" textLength="52.6" lengthAdjust="spacingAndGlyphs">28 Jan 20:00</text>
<rect x="1214" y="753" width="1" height="3" fill="#000"/>
<text x="1213.0" y="765" font-family="'Liberation Sans',sans-serif" font-size="9.8" fill="#000" stroke="#000" stroke-width=".2" text-rendering="geometricPrecision" textLength="52.6" lengthAdjust="spacingAndGlyphs">29 Jan 12:00</text>
<rect x="1278" y="753" width="1" height="3" fill="#000"/>
<text x="1277.0" y="765" font-family="'Liberation Sans',sans-serif" font-size="9.8" fill="#000" stroke="#000" stroke-width=".2" text-rendering="geometricPrecision" textLength="52.6" lengthAdjust="spacingAndGlyphs">30 Jan 04:00</text>
<rect x="1342" y="753" width="1" height="3" fill="#000"/>
<text x="1341.0" y="765" font-family="'Liberation Sans',sans-serif" font-size="9.8" fill="#000" stroke="#000" stroke-width=".2" text-rendering="geometricPrecision" textLength="52.6" lengthAdjust="spacingAndGlyphs">30 Jan 20:00</text>
<polygon points="1,38 8.5,38 4.75,34" fill="#000" shape-rendering="geometricPrecision"/>
<text x="13.0" y="39" font-family="'Liberation Sans',sans-serif" font-size="9.8" fill="#000" stroke="#000" stroke-width=".2" text-rendering="geometricPrecision" textLength="57.2" lengthAdjust="spacingAndGlyphs">GBPUSD-,H4</text>
<text x="76.4" y="39" font-family="'Liberation Sans',sans-serif" font-size="9.8" fill="#000" stroke="#000" stroke-width=".2" text-rendering="geometricPrecision" textLength="32.6" lengthAdjust="spacingAndGlyphs">1.31157</text>
<text x="112.4" y="39" font-family="'Liberation Sans',sans-serif" font-size="9.8" fill="#000" stroke="#000" stroke-width=".2" text-rendering="geometricPrecision" textLength="32.6" lengthAdjust="spacingAndGlyphs">1.31187</text>
<text x="148.4" y="39" font-family="'Liberation Sans',sans-serif" font-size="9.8" fill="#000" stroke="#000" stroke-width=".2" text-rendering="geometricPrecision" textLength="32.6" lengthAdjust="spacingAndGlyphs">1.31039</text>
<text x="184.5" y="39" font-family="'Liberation Sans',sans-serif" font-size="9.8" fill="#000" stroke="#000" stroke-width=".2" text-rendering="geometricPrecision" textLength="32.6" lengthAdjust="spacingAndGlyphs">1.31110</text>
<text x="2.2" y="451" font-family="'Liberation Sans',sans-serif" font-size="9.8" fill="#000" stroke="#000" stroke-width=".2" text-rendering="geometricPrecision" textLength="65.8" lengthAdjust="spacingAndGlyphs">MACD(12,26,9)</text>
<text x="70.8" y="451" font-family="'Liberation Sans',sans-serif" font-size="9.8" fill="#000" stroke="#000" stroke-width=".2" text-rendering="geometricPrecision" textLength="38.2" lengthAdjust="spacingAndGlyphs">0.000818</text>
<text x="111.7" y="451" font-family="'Liberation Sans',sans-serif" font-size="9.8" fill="#000" stroke="#000" stroke-width=".2" text-rendering="geometricPrecision" textLength="38.2" lengthAdjust="spacingAndGlyphs">0.001902</text>
<text x="2.2" y="615" font-family="'Liberation Sans',sans-serif" font-size="9.8" fill="#000" stroke="#000" stroke-width=".2" text-rendering="geometricPrecision" textLength="32.0" lengthAdjust="spacingAndGlyphs">RSI(14)</text>
<text x="36.9" y="615" font-family="'Liberation Sans',sans-serif" font-size="9.8" fill="#000" stroke="#000" stroke-width=".2" text-rendering="geometricPrecision" textLength="33.2" lengthAdjust="spacingAndGlyphs">52.3364</text>
</svg>

<div id="oct">
  <div class="tab sell"><span>SELL</span><i></i></div>
  <div class="tab buy"><span>BUY</span><i></i></div>
  <div class="spin"><div class="sb dn"><b></b></div><div class="val">0.10</div><div class="sb up"><b></b></div></div>
  <div class="pr ps"><u></u><span class="sm" style="left:20px">1.31</span><span class="big" style="left:47.5px;transform:scaleX(.9)">11</span><span class="sup" style="left:86px">0</span></div>
  <div class="pr pb"><u></u><span class="sm" style="left:19px">1.31</span><span class="big" style="left:47px;transform:scaleX(.97)">13</span><span class="sup" style="left:86.2px">5</span></div>
</div>

<div id="tb">
<div class="auto" style="left:-1.4px">单</div>
<svg style="left:21px;top:3px" width="19" height="18" viewBox="0 0 19 18" ><defs><linearGradient id="gd" x1=".75" y1=".1" x2=".25" y2=".9"><stop offset="0" stop-color="#fff2a8"/><stop offset=".3" stop-color="#f5cc28"/><stop offset=".7" stop-color="#e8ac0e"/><stop offset="1" stop-color="#d4920a"/></linearGradient><linearGradient id="gs" x1=".6" y1=".2" x2=".3" y2=".8"><stop offset="0" stop-color="#fbe08a"/><stop offset="1" stop-color="#c98a10"/></linearGradient></defs><path d="M16.2,7.2 L17,9.8 L9.4,16.2 L9.2,13.4 Z" fill="#d2c07c" stroke="#9a660c" stroke-width=".95"/><path d="M1,9.8 L2.7,8.9 L9.9,13.5 L9.3,16.2 Z" fill="url(#gs)" stroke="#a86c0c" stroke-width=".95"/><path d="M6.3,1.3 L16.2,7.2 L9.8,13.6 L2.6,9.1 C4.6,7 5.8,4.6 6.3,1.3 Z" fill="url(#gd)" stroke="#a86c0c" stroke-width="1.15" stroke-linejoin="round"/></svg>
<svg style="left:49px;top:2px" width="19" height="18" viewBox="0 0 19 18" ><defs><linearGradient id="cl" x1="0" y1="0" x2="0" y2="1"><stop offset="0" stop-color="#ffffff"/><stop offset=".5" stop-color="#f2f5fb"/><stop offset="1" stop-color="#b9c6e2"/></linearGradient></defs><path d="M3.2,1.5 L6.4,3.9 L6.4,11.6 L3.2,10.6 Z" fill="#0b86f4"/><path d="M3.2,1.5 L10.6,1.2 L14,3.7 L6.4,3.9 Z" fill="#2ea6ff"/><path d="M6.4,3.9 L14,3.7 L14,11.6 L6.4,11.6 Z" fill="#1b9bff"/><path d="M3.4,1.7 L6.5,4 L6.5,11" fill="none" stroke="#d4ecff" stroke-width=".6"/><rect x="7.8" y="4.9" width="5.3" height="2.3" fill="#c4e6ff"/><rect x="8.6" y="5.7" width="3.6" height=".8" fill="#ffffff"/><rect x="7.2" y="7.7" width="6.4" height="3" fill="#e4f2ff"/><path d="M4,16.6 C.6,16.6 .4,12.4 3.4,12 C3.6,9.6 7,9 8.2,10.8 C9.4,8.6 12.2,9.2 12.6,11.2 C14.2,10 16.6,11.2 16,13.2 C17.6,14 17,16.6 14.8,16.6 Z" fill="url(#cl)" stroke="#4f6eae" stroke-width=".95"/></svg>
<svg style="left:77px;top:2px" width="19" height="19" viewBox="0 0 19 19" ><defs><linearGradient id="sg" x1=".2" y1="0" x2=".7" y2="1"><stop offset="0" stop-color="#b4d8b4" stop-opacity=".25"/><stop offset=".5" stop-color="#7cbc7c" stop-opacity=".6"/><stop offset="1" stop-color="#2f9a36" stop-opacity=".95"/></linearGradient></defs><path d="M8.97,8.85 L8.97,16.85 A8,8 0 0 0 12.4,1.7 Z" fill="url(#sg)"/><circle cx="8.97" cy="8.85" r="7.4" fill="none" stroke="#4a74d8" stroke-width="1" opacity=".55"/><circle cx="8.97" cy="8.85" r="5.1" fill="none" stroke="#3f6ad4" stroke-width="1.1" opacity=".6"/><circle cx="8.97" cy="8.85" r="2.9" fill="none" stroke="#3560d0" stroke-width="1" opacity=".6"/><path d="M8.97,16.25 A7.4,7.4 0 0 0 16.2,7.2" fill="none" stroke="#2d8a4a" stroke-width="1" opacity=".7"/><circle cx="8.9" cy="8.7" r="1.9" fill="#2050cc"/><rect x="8.1" y="10.6" width=".8" height="6" fill="#fff" opacity=".9"/><rect x="8.75" y="9.2" width="1.35" height="7.7" fill="#1ea01e"/></svg>
<svg style="left:104px;top:2px" width="20" height="19" viewBox="0 0 20 19" ><defs><linearGradient id="yl" x1="0" y1="0" x2="1" y2="1"><stop offset="0" stop-color="#fff6a8"/><stop offset=".6" stop-color="#f8d84a"/><stop offset="1" stop-color="#e8a80c"/></linearGradient><radialGradient id="rd" cx=".45" cy=".4" r=".6"><stop offset="0" stop-color="#ff5a30"/><stop offset="1" stop-color="#d01a08"/></radialGradient><linearGradient id="ht" x1="0" y1="0" x2="0" y2="1"><stop offset="0" stop-color="#9ad6f6"/><stop offset="1" stop-color="#4aa4dc"/></linearGradient></defs><path d="M1.4,8.2 L16.9,8 L12.4,16.6 L9.2,17.1 Z" fill="url(#yl)" stroke="#d8a012" stroke-width=".8" stroke-linejoin="round"/><path d="M1.2,5.2 C.6,7.6 5,8.6 9,8.4 C13,8.3 17.4,7.2 16.8,4.6 C15.6,3.8 13.8,5.6 12.2,5.4 C12,.3 5.6,.5 5.6,5.2 C4.2,6 2.4,4.6 1.2,5.2 Z" fill="url(#ht)" stroke="#2c86b8" stroke-width=".8" stroke-linejoin="round"/><path d="M5.8,5.4 C7.6,6.6 10.4,6.6 12.2,5.4" fill="none" stroke="#2c86b8" stroke-width=".6" opacity=".7"/><circle cx="13.57" cy="12.84" r="3.9" fill="url(#rd)" stroke="#b81408" stroke-width=".8"/><rect x="12.2" y="11.45" width="2.8" height="2.8" fill="#fff"/></svg>
<div class="auto">自动交易</div>
<div class="sep" style="left:181px"></div><div class="grip" style="left:185px"></div>
<svg style="left:196px;top:0px" width="16" height="22" viewBox="0 0 16 22" ><g shape-rendering="crispEdges" fill="#484848"><rect x="3" y="5" width="1" height="14"/><rect x="1" y="16" width="14" height="1"/><rect x="2" y="6" width="3" height="1"/><rect x="13" y="15" width="1" height="3"/></g><g fill="#0f8f14"><rect x="8.9" y="6" width="1.5" height="8.8"/><rect x="7" y="12.8" width="2.6" height="1.4"/><rect x="9.6" y="6.8" width="2.6" height="1.4"/></g></svg>
<div class="pressed" style="left:219px;width:26px"></div>
<svg style="left:224px;top:0px" width="16" height="22" viewBox="0 0 16 22" ><g shape-rendering="crispEdges" fill="#484848"><rect x="3" y="5" width="1" height="14"/><rect x="1" y="16" width="14" height="1"/><rect x="2" y="6" width="3" height="1"/><rect x="13" y="15" width="1" height="3"/></g><defs><linearGradient id="cg" x1="0" y1="0" x2="0" y2="1"><stop offset="0" stop-color="#9dff9d"/><stop offset="1" stop-color="#22d62a"/></linearGradient></defs><g shape-rendering="crispEdges"><rect x="9" y="3" width="1" height="12" fill="#0a9412"/><rect x="7" y="5" width="5" height="8" fill="#0a9412"/><rect x="8" y="6" width="3" height="6" fill="url(#cg)"/></g></svg>
<svg style="left:252px;top:0px" width="16" height="22" viewBox="0 0 16 22" ><g shape-rendering="crispEdges" fill="#484848"><rect x="3" y="5" width="1" height="14"/><rect x="1" y="16" width="14" height="1"/><rect x="2" y="6" width="3" height="1"/><rect x="13" y="15" width="1" height="3"/></g><path d="M2.2,13.6 C4.8,12.4 6.4,8.4 8.3,8.3 C10.3,8.2 11.6,11.2 13.8,11.8" fill="none" stroke="#2a9a2e" stroke-width="1.3"/></svg>
<div class="sep" style="left:276px"></div>
<svg style="left:285px;top:2px" width="18" height="18" viewBox="0 0 18 18" ><defs><linearGradient id="lg285" x1="0" y1="0" x2="0" y2="1"><stop offset="0" stop-color="#bfe6fa"/><stop offset="1" stop-color="#e6f6fd"/></linearGradient></defs><path d="M9.6,11.2 L15,15.8" stroke="#a8780e" stroke-width="3.6" stroke-linecap="butt"/><path d="M9.6,11.2 L14.8,15.6" stroke="#f4d63a" stroke-width="2" stroke-linecap="butt"/><circle cx="6.1" cy="6.95" r="5.5" fill="url(#lg285)" stroke="#2d72c4" stroke-width="1.2"/><rect x="2.6" y="6" width="7" height="1.9" fill="#3a86b4"/><rect x="5.15" y="3.45" width="1.9" height="7" fill="#3a86b4"/></svg>
<svg style="left:313px;top:2px" width="18" height="18" viewBox="0 0 18 18" ><defs><linearGradient id="lg313" x1="0" y1="0" x2="0" y2="1"><stop offset="0" stop-color="#bfe6fa"/><stop offset="1" stop-color="#e6f6fd"/></linearGradient></defs><path d="M9.6,11.2 L15,15.8" stroke="#a8780e" stroke-width="3.6" stroke-linecap="butt"/><path d="M9.6,11.2 L14.8,15.6" stroke="#f4d63a" stroke-width="2" stroke-linecap="butt"/><circle cx="6.1" cy="6.95" r="5.5" fill="url(#lg313)" stroke="#2d72c4" stroke-width="1.2"/><rect x="2.6" y="6" width="7" height="1.9" fill="#3a86b4"/></svg>
<svg style="left:341px;top:3px" width="16" height="16" viewBox="0 0 16 16" ><rect x="0" y="0" width="7.9" height="7.9" fill="#3aa41c"/><rect x="0" y="0" width="7.9" height="2.4" fill="#2a8c10"/><rect x="1.2" y="1" width=".9" height=".9" fill="#e8f0ff"/><path d="M1.3,3.2 h5.6 v3.9 h-1.2 v-1.2 h-3.2 v1.2 h-1.2 Z" fill="#fbfdff"/><rect x="2.2" y="4.1" width="3.8" height=".9" fill="#8fd070"/><rect x="8.1" y="0" width="7.9" height="7.9" fill="#2a5ce0"/><rect x="8.1" y="0" width="7.9" height="2.4" fill="#1238b4"/><rect x="9.299999999999999" y="1" width=".9" height=".9" fill="#e8f0ff"/><path d="M9.4,3.2 h5.6 v3.9 h-1.2 v-1.2 h-3.2 v1.2 h-1.2 Z" fill="#fbfdff"/><rect x="10.3" y="4.1" width="3.8" height=".9" fill="#8fa8f0"/><rect x="0" y="8.1" width="7.9" height="7.9" fill="#2a5ce0"/><rect x="0" y="8.1" width="7.9" height="2.4" fill="#1238b4"/><rect x="1.2" y="9.1" width=".9" height=".9" fill="#e8f0ff"/><path d="M1.3,11.3 h5.6 v3.9 h-1.2 v-1.2 h-3.2 v1.2 h-1.2 Z" fill="#fbfdff"/><rect x="2.2" y="12.2" width="3.8" height=".9" fill="#8fa8f0"/><rect x="8.1" y="8.1" width="7.9" height="7.9" fill="#3aa41c"/><rect x="8.1" y="8.1" width="7.9" height="2.4" fill="#2a8c10"/><rect x="9.299999999999999" y="9.1" width=".9" height=".9" fill="#e8f0ff"/><path d="M9.4,11.3 h5.6 v3.9 h-1.2 v-1.2 h-3.2 v1.2 h-1.2 Z" fill="#fbfdff"/><rect x="10.3" y="12.2" width="3.8" height=".9" fill="#8fd070"/></svg>
<div class="sep" style="left:366px"></div>
<div class="pressed" style="left:371px;width:26px"></div>
<svg style="left:376px;top:0px" width="16" height="22" viewBox="0 0 16 22" ><g shape-rendering="crispEdges" fill="#484848"><rect x="3" y="5" width="1" height="14"/><rect x="1" y="16" width="14" height="1"/><rect x="2" y="6" width="3" height="1"/><rect x="13" y="15" width="1" height="3"/></g><path d="M8.3,7.4 L12,10.5 L8.3,13.6 Z" fill="#8cf09a" stroke="#0f8f1e" stroke-width="1.1" stroke-linejoin="round"/></svg>
<div class="pressed" style="left:399px;width:26px"></div>
<svg style="left:404px;top:0px" width="16" height="22" viewBox="0 0 16 22" ><g shape-rendering="crispEdges" fill="#484848"><rect x="3" y="5" width="1" height="14"/><rect x="1" y="16" width="14" height="1"/><rect x="2" y="6" width="3" height="1"/><rect x="13" y="15" width="1" height="3"/></g><rect x="8.9" y="5" width="1.3" height="10" fill="#1a6fa8"/><path d="M15,10.5 L10.6,10.5" fill="none" stroke="#b83a08" stroke-width="1.1"/><path d="M10.4,10.5 L13.4,8.2 L12.6,10.5 L13.4,12.8 Z" fill="#ff6a00" stroke="#8a2800" stroke-width=".6"/></svg>
<div class="sep" style="left:428px"></div>
<svg style="left:437px;top:2px" width="19" height="19" viewBox="0 0 19 19" ><defs><linearGradient id="pg" x1="0" y1="0" x2="1" y2="1"><stop offset="0" stop-color="#6af06a"/><stop offset=".5" stop-color="#22c82a"/><stop offset="1" stop-color="#0aa014"/></linearGradient></defs><path d="M1.6,1.4 L9,1.4 L12.2,4.6 L12.2,14 L1.6,14 Z" fill="#f6f6f6" stroke="#8a8a8a" stroke-width=".9"/><path d="M9,1.4 L9,4.6 L12.2,4.6" fill="#dcdcdc" stroke="#8a8a8a" stroke-width=".7"/><path d="M7.4,5 C5.6,4.4 5.2,5.6 5.2,7 L5.2,11.6 M3.8,7.6 L7,7.6" fill="none" stroke="#555" stroke-width="1"/><path d="M9.6,7.4 L13,7.4 L13,11 L16.8,11 L16.8,14.4 L13,14.4 L13,18.2 L9.6,18.2 L9.6,14.4 L5.8,14.4 L5.8,11 L9.6,11 Z" fill="url(#pg)" stroke="#0a8a12" stroke-width=".9"/><path d="M10.6,8.4 L12,8.4 M6.8,12 L9.8,12" stroke="#b8ffb8" stroke-width=".8" opacity=".8"/></svg>
<div class="dd" style="left:460px"></div>
<svg style="left:475px;top:2px" width="18" height="18" viewBox="0 0 18 18" ><defs><linearGradient id="ck" x1=".2" y1="0" x2=".8" y2="1"><stop offset="0" stop-color="#62b0f6"/><stop offset=".5" stop-color="#1c6cd8"/><stop offset="1" stop-color="#0a44a8"/></linearGradient><linearGradient id="cf" x1="0" y1="0" x2="0" y2="1"><stop offset="0" stop-color="#ffffff"/><stop offset="1" stop-color="#dcecfa"/></linearGradient></defs><circle cx="9" cy="8.8" r="7.5" fill="url(#ck)"/><circle cx="9" cy="8.8" r="7.5" fill="none" stroke="#0c3f98" stroke-width=".6"/><circle cx="9" cy="8.8" r="5.4" fill="url(#cf)"/><g fill="#909aa8"><rect x="8.6" y="4" width=".8" height=".9"/><rect x="8.6" y="12.7" width=".8" height=".9"/><rect x="4.2" y="8.4" width=".9" height=".8"/><rect x="12.9" y="8.4" width=".9" height=".8"/><rect x="6.3" y="4.7" width=".7" height=".7"/><rect x="11" y="4.7" width=".7" height=".7"/><rect x="6.3" y="12.2" width=".7" height=".7"/><rect x="11" y="12.2" width=".7" height=".7"/></g><path d="M8.7,5 L8.7,8.9 L11.6,9.9" fill="none" stroke="#1a1a1a" stroke-width="1.2"/></svg>
<div class="dd" style="left:499px"></div>
<svg style="left:515px;top:4px" width="17" height="15" viewBox="0 0 17 15" ><rect x=".5" y=".5" width="15.4" height="13.2" fill="#fdfdfd" stroke="#2f6fc8" stroke-width="1"/><rect x=".5" y=".5" width="15.4" height="2" fill="#4f8fe0"/><rect x="1" y="7.2" width="14.4" height=".9" fill="#5a8fd8"/><path d="M2.4,6.2 L5,5 L7.2,5.8 L9.4,4.4 L11.4,5.2 L13.8,4" fill="none" stroke="#a52008" stroke-width="1.3"/><path d="M2.4,12 L4.8,10.8 L7,11.8 L10,9.8 L11.6,10.4 L13.6,12" fill="none" stroke="#12902a" stroke-width="1.3"/></svg>
<div class="dd" style="left:538px"></div>
<div class="sep" style="left:550px"></div><div class="grip" style="left:553px"></div>
<div class="pressed" style="left:559px;width:26px"></div>
<svg style="left:566px;top:3px" width="11" height="17" viewBox="0 0 11 17" ><path d="M1.2,1.2 L1.2,12.6 L3.8,10.2 L6,14.8 L7.8,14 L5.6,9.6 L9,9.2 Z" fill="#404040"/></svg>
<svg style="left:592px;top:4px" width="16" height="16" viewBox="0 0 16 16" ><g shape-rendering="crispEdges" fill="#505050"><rect x="0" y="7" width="15" height="1"/><rect x="7" y="0" width="1" height="15"/></g><rect x="7" y="7" width="1" height="1" fill="#d0d0d0"/></svg>
<div class="sep" style="left:616px"></div>
<svg style="left:633px;top:5px" width="2" height="13" viewBox="0 0 2 13" ><rect x="0" y="0" width="1" height="13" fill="#505050" shape-rendering="crispEdges"/></svg>
<svg style="left:656px;top:11px" width="13" height="2" viewBox="0 0 13 2" ><rect x="0" y="0" width="12" height="1" fill="#505050" shape-rendering="crispEdges"/></svg>
<svg style="left:683px;top:5px" width="14" height="14" viewBox="0 0 14 14" ><path d="M.6,12.8 L13,.8" stroke="#505050" stroke-width="1.1"/></svg>
<svg style="left:709px;top:3px" width="17" height="18" viewBox="0 0 17 18" ><g stroke="#404040" stroke-width="1.25" fill="none"><path d="M1,11 L12.4,1.4"/><path d="M1.4,14.4 L13,4.6"/><path d="M4,15 L13.4,7"/><path d="M3.2,8.2 L4.6,13.4 M5.8,6 L7.4,11.6 M8.4,4 L10,9.4 M11,2 L12.2,7"/></g><text x="11.6" y="16.8" font-family="'Liberation Sans',sans-serif" font-size="6.4" font-weight="bold" fill="#404040">E</text></svg>
<svg style="left:738px;top:3px" width="16" height="18" viewBox="0 0 16 18" ><g stroke="#505050" stroke-width="1" stroke-dasharray="1,1" shape-rendering="crispEdges"><path d="M1,1.5 L14,1.5"/><path d="M1,4.5 L14,4.5"/><path d="M1,8.5 L14,8.5"/><path d="M1,12.5 L10,12.5"/></g><text x="10.6" y="16.8" font-family="'Liberation Sans',sans-serif" font-size="6.4" font-weight="bold" fill="#404040">F</text></svg>
<div class="tf" style="left:769.6px;top:5px;font-size:12.6px;line-height:14px;color:#555;font-weight:bold;transform:scaleX(.88);transform-origin:0 0">A</div>
<svg style="left:795px;top:4px" width="14" height="15" viewBox="0 0 14 15" ><rect x=".5" y="1.5" width="12" height="12" fill="none" stroke="#505050" stroke-width="1" stroke-dasharray="1,1" shape-rendering="crispEdges"/><rect x="0" y="0" width="2" height="2" fill="#505050"/><path d="M3,4.4 L10.6,4.4 M6.8,4.4 L6.8,11.6" stroke="#505050" stroke-width="1.5" fill="none"/></svg>
<svg style="left:823px;top:4px" width="16" height="15" viewBox="0 0 16 15" ><path d="M4,.6 L7.4,3.8 L4,5.6 L.6,3.8 Z" fill="#484848"/><path d="M11,8.6 L14.4,10.6 L11,14 L7.6,10.6 Z" fill="#484848"/><path d="M2.8,7.2 L5,9.4 L9.8,4.6" fill="none" stroke="#484848" stroke-width="1.3"/></svg>
<div class="dd" style="left:844px"></div>
<div class="sep" style="left:855px"></div><div class="grip" style="left:859px"></div>
<div class="tf" style="left:870.3px">M1</div>
<div class="tf" style="left:898.4px">M5</div>
<div class="tf" style="left:924.6px">M15</div>
<div class="tf" style="left:952.5px">M30</div>
<div class="tf" style="left:983.7px">H1</div>
<div class="pressed" style="left:1005px;width:25px"></div>
<div class="tf" style="left:1010.6px">H4</div>
<div class="tf" style="left:1039.4px">D1</div>
<div class="tf" style="left:1067px">W1</div>
<div class="tf" style="left:1093.7px">MN</div>
<div class="sep" style="left:1116px"></div>
<svg style="left:1577px;top:2px" width="16" height="16" viewBox="0 0 16 16" ><path d="M6.8,9.6 L2.4,13.6" stroke="#1d4fd0" stroke-width="2.4" stroke-linecap="round"/><circle cx="9.5" cy="6.5" r="4.1" fill="#f6f8ff" stroke="#1d4fd0" stroke-width="1.3"/></svg>
<svg style="left:1603px;top:1px" width="25" height="19" viewBox="0 0 25 19" ><defs><linearGradient id="bb" x1="0" y1="0" x2="0" y2="1"><stop offset="0" stop-color="#ffffff"/><stop offset=".5" stop-color="#f4f4f6"/><stop offset="1" stop-color="#d0d0da"/></linearGradient></defs><path d="M17.8,11 L19.4,13.8 L20.4,11.2 Z" fill="#707070" stroke="#707070" stroke-width=".5"/><ellipse cx="16.1" cy="6.8" rx="6.6" ry="4.6" fill="url(#bb)" stroke="#858585" stroke-width="1"/><path d="M3.9,14.2 L4.6,16.8 L6.6,15 Z" fill="#707070" stroke="#707070" stroke-width=".5"/><ellipse cx="7.2" cy="11.3" rx="5" ry="3.9" fill="url(#bb)" stroke="#858585" stroke-width="1"/></svg>
</div>
<div id="tbl1"></div><div id="tbl2"></div>
</body></html>
